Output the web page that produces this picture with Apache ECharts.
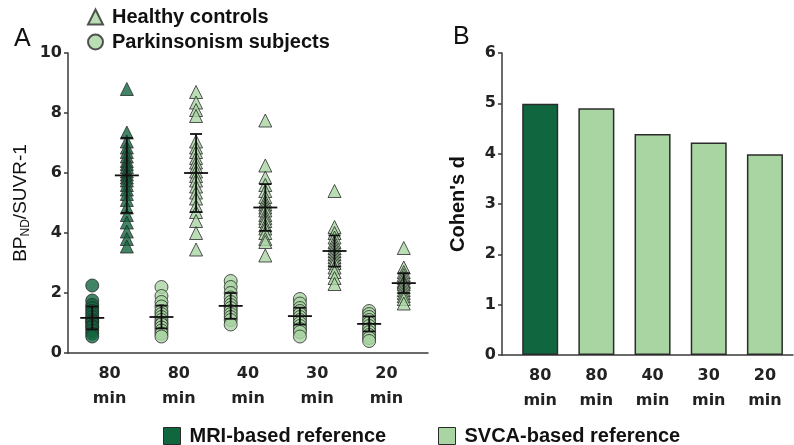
<!DOCTYPE html>
<html>
<head>
<meta charset="utf-8">
<script src="https://cdn.jsdelivr.net/npm/echarts@6/dist/echarts.min.js"></script>
<style>html,body{margin:0;padding:0;background:#fff}#c{width:794px;height:445px}</style>
</head>
<body>
<div id="c"></div>
<script>
// ---------- data ----------
const timeLabels = ['80\nmin', '80\nmin', '40\nmin', '30\nmin', '20\nmin'];
// Panel A: healthy controls (triangles), one array per condition
const hcMri80  = [8.8, 7.35, 7.05, 6.85, 6.7, 6.55, 6.4, 6.3, 6.2, 6.05, 5.95, 5.85, 5.75, 5.6, 5.45, 5.3, 5.1, 4.85, 4.6, 4.35, 4.05, 3.8, 3.55];
const hcSvca80 = [8.7, 8.35, 8.1, 7.9, 7.05, 6.85, 6.7, 6.5, 6.35, 6.2, 6.05, 5.9, 5.75, 5.55, 5.35, 5.15, 4.9, 4.7, 4.4, 4.0, 3.45];
const hcSvca40 = [7.75, 6.25, 5.85, 5.6, 5.4, 5.2, 5.05, 4.95, 4.85, 4.75, 4.6, 4.5, 4.4, 4.25, 4.15, 4.0, 3.8, 3.7, 3.25];
const hcSvca30 = [5.4, 4.2, 4.0, 3.85, 3.7, 3.6, 3.5, 3.4, 3.3, 3.2, 3.1, 3.0, 2.85, 2.7, 2.5, 2.3];
const hcSvca20 = [3.5, 2.85, 2.7, 2.6, 2.5, 2.4, 2.35, 2.3, 2.2, 2.1, 2.0, 1.9, 1.8, 1.65];
// Panel A: parkinsonism subjects (circles)
const pdMri80  = [2.25, 1.75, 1.6, 1.5, 1.4, 1.3, 1.2, 1.1, 1.05, 1.0, 0.9, 0.85, 0.75, 0.65, 0.55];
const pdSvca80 = [2.2, 1.9, 1.7, 1.55, 1.4, 1.3, 1.2, 1.1, 1.0, 0.95, 0.85, 0.75, 0.65, 0.55];
const pdSvca40 = [2.4, 2.2, 2.0, 1.85, 1.7, 1.6, 1.5, 1.4, 1.3, 1.2, 1.1, 0.95];
const pdSvca30 = [1.8, 1.65, 1.5, 1.4, 1.3, 1.2, 1.1, 1.0, 0.9, 0.8, 0.7, 0.55];
const pdSvca20 = [1.4, 1.3, 1.2, 1.1, 1.0, 0.9, 0.8, 0.7, 0.6, 0.5, 0.4];
// mean and SD lines
const hcMean = [5.92, 6.0, 4.85, 3.4, 2.33];
const hcSD   = [1.25, 1.3, 0.78, 0.52, 0.33];
const pdMean = [1.17, 1.2, 1.57, 1.23, 0.97];
const pdSD   = [0.38, 0.38, 0.43, 0.28, 0.25];
// Panel B: Cohen's d
const cohenD = [4.99, 4.9, 4.39, 4.22, 3.99];

// ---------- styling ----------
const DARK = '#10663f';
const LIGHT = '#a9d5a3';
const EDGE = '#2b2b2b';
const AX = '#3a3a3a';
const TICKFONT = 'DejaVu Sans';
const TXTFONT = 'Liberation Sans';
const OFF = 0.25;

const hcGroups = [hcMri80, hcSvca80, hcSvca40, hcSvca30, hcSvca20];
const pdGroups = [pdMri80, pdSvca80, pdSvca40, pdSvca30, pdSvca20];

function pts(groups, off) {
  const out = [];
  groups.forEach((arr, g) => arr.forEach(v => {
    out.push({ value: [g + off, v], itemStyle: { color: g === 0 ? DARK : LIGHT } });
  }));
  return out;
}
function errData(means, sds, off) {
  return means.map((m, i) => [i + off, m, sds[i]]);
}
function errRender(params, api) {
  const x = api.value(0), m = api.value(1), s = api.value(2);
  const c = api.coord([x, m]);
  const t = api.coord([x, m + s]);
  const b = api.coord([x, m - s]);
  const st = { stroke: '#111', lineWidth: 1.8 };
  return { type: 'group', children: [
    { type: 'line', shape: { x1: c[0] - 12, y1: c[1], x2: c[0] + 12, y2: c[1] }, style: st },
    { type: 'line', shape: { x1: c[0], y1: t[1], x2: c[0], y2: b[1] }, style: st },
    { type: 'line', shape: { x1: c[0] - 6, y1: t[1], x2: c[0] + 6, y2: t[1] }, style: st },
    { type: 'line', shape: { x1: c[0] - 6, y1: b[1], x2: c[0] + 6, y2: b[1] }, style: st }
  ]};
}

const xLabel = {
  customValues: [0, 1, 2, 3, 4],
  formatter: v => timeLabels[Math.round(v)],
  fontFamily: TICKFONT, fontWeight: 'bold', fontSize: 16, color: '#222',
  lineHeight: 25, margin: 8
};
const yLabel = { fontFamily: TICKFONT, fontWeight: 'bold', fontSize: 16, color: '#222', margin: 6 };
const legendText = { fontFamily: TXTFONT, fontWeight: 'bold', fontSize: 20, color: '#111', padding: [0, 0, 0, 4] };

const option = {
  backgroundColor: '#fff',
  animation: false,
  title: [
    { text: 'A', left: 9, top: 22, textStyle: { fontFamily: TXTFONT, fontWeight: 'normal', fontSize: 25, color: '#111' } },
    { text: 'B', left: 448, top: 20, textStyle: { fontFamily: TXTFONT, fontWeight: 'normal', fontSize: 25, color: '#111' } }
  ],
  legend: [
    { data: ['Healthy controls', 'Parkinsonism subjects'], orient: 'vertical', left: 87, top: 7, padding: 0,
      itemWidth: 15, itemHeight: 15, itemGap: 5, textStyle: legendText },
    { data: ['MRI-based reference'], left: 163, top: 426, padding: 0, itemWidth: 17, itemHeight: 17, icon: 'rect',
      itemStyle: { borderColor: EDGE, borderWidth: 1 }, textStyle: legendText },
    { data: ['SVCA-based reference'], left: 438, top: 426, padding: 0, itemWidth: 17, itemHeight: 17, icon: 'rect',
      itemStyle: { borderColor: EDGE, borderWidth: 1 }, textStyle: legendText }
  ],
  grid: [
    { left: 68, top: 53, width: 360, height: 300 },
    { left: 502, top: 53, width: 291, height: 302 }
  ],
  xAxis: [
    { gridIndex: 0, type: 'value', min: -0.6, max: 4.6, splitLine: { show: false },
      axisLine: { onZero: false, lineStyle: { color: AX, width: 1.5 } }, axisTick: { show: false }, axisLabel: xLabel },
    { gridIndex: 1, type: 'value', min: -0.68, max: 4.5, splitLine: { show: false },
      axisLine: { onZero: false, lineStyle: { color: AX, width: 1.5 } }, axisTick: { show: false }, axisLabel: xLabel }
  ],
  yAxis: [
    { gridIndex: 0, type: 'value', min: 0, max: 10, interval: 2, splitLine: { show: false },
      axisLine: { show: true, onZero: false, lineStyle: { color: AX, width: 1.5 } },
      axisTick: { show: true, length: 4, lineStyle: { color: AX, width: 1.5 } },
      axisLabel: yLabel,
      name: '{a|BP}{b|ND}{a|/SUVR-1}', nameLocation: 'middle', nameGap: 36,
      nameTextStyle: { rich: {
        a: { fontFamily: TXTFONT, fontSize: 19, color: '#111', lineHeight: 22 },
        b: { fontFamily: TXTFONT, fontSize: 12, color: '#111', verticalAlign: 'bottom', lineHeight: 14, padding: [8, 0, 0, 0] }
      } } },
    { gridIndex: 1, type: 'value', min: 0, max: 6, interval: 1, splitLine: { show: false },
      axisLine: { show: true, onZero: false, lineStyle: { color: AX, width: 1.5 } },
      axisTick: { show: true, length: 4, lineStyle: { color: AX, width: 1.5 } },
      axisLabel: yLabel,
      name: "Cohen's d", nameLocation: 'middle', nameGap: 34,
      nameTextStyle: { fontFamily: TXTFONT, fontWeight: 'bold', fontSize: 20, color: '#111' } }
  ],
  series: [
    { name: 'Healthy controls', type: 'scatter', xAxisIndex: 0, yAxisIndex: 0, symbol: 'triangle', symbolSize: 13,
      itemStyle: { color: LIGHT, borderColor: EDGE, borderWidth: 1 }, data: pts(hcGroups, OFF), z: 3 },
    { name: 'Parkinsonism subjects', type: 'scatter', xAxisIndex: 0, yAxisIndex: 0, symbol: 'circle', symbolSize: 13,
      itemStyle: { color: LIGHT, borderColor: EDGE, borderWidth: 1 }, data: pts(pdGroups, -OFF), z: 3 },
    { type: 'custom', xAxisIndex: 0, yAxisIndex: 0, renderItem: errRender, data: errData(hcMean, hcSD, OFF), z: 5 },
    { type: 'custom', xAxisIndex: 0, yAxisIndex: 0, renderItem: errRender, data: errData(pdMean, pdSD, -OFF), z: 5 },
    { name: 'MRI-based reference', type: 'bar', xAxisIndex: 1, yAxisIndex: 1, barWidth: 36, barGap: '-100%',
      itemStyle: { color: DARK, borderColor: EDGE, borderWidth: 1.5 },
      data: cohenD.slice(0, 1).map((v, i) => [i, v]) },
    { name: 'SVCA-based reference', type: 'bar', xAxisIndex: 1, yAxisIndex: 1, barWidth: 36, barGap: '-100%',
      itemStyle: { color: LIGHT, borderColor: EDGE, borderWidth: 1.5 },
      data: cohenD.slice(1).map((v, i) => [i + 1, v]) }
  ]
};
const chart = echarts.init(document.getElementById('c'), null, { renderer: 'canvas' });
chart.setOption(option);
</script>
</body>
</html>
